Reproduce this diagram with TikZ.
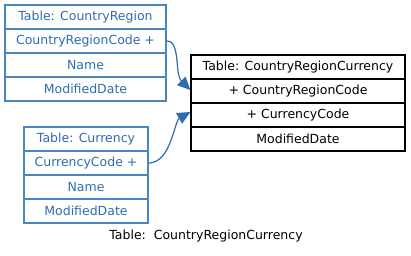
\documentclass[tikz,border=0pt]{standalone}
\usepackage{fontspec}
\setmainfont{DejaVu Sans}
\usetikzlibrary{arrows.meta}
\definecolor{tblue}{RGB}{74,134,194}
\definecolor{tbluetext}{RGB}{46,108,178}
\tikzset{
  tablefont/.style={font=\fontsize{12.5}{14}\selectfont},
  bluerow/.style={draw=tblue, line width=1.6pt, text=tbluetext, tablefont,
    minimum height=24pt, inner sep=0pt, anchor=center},
  blackrow/.style={draw=black, line width=1.2pt, text=black, tablefont,
    minimum height=24pt, inner sep=0pt, anchor=center},
  fklink/.style={draw=tbluetext, line width=1.2pt, -{Triangle[length=13pt,width=12pt]}},
}
\begin{document}
\begin{tikzpicture}[x=1pt,y=-1pt]
\useasboundingbox (0,0) rectangle (411,255);
% CountryRegion
\node[bluerow, minimum width=161pt] (a1) at (85.5,17) {Table: CountryRegion};
\node[bluerow, minimum width=161pt] (a2) at (85.5,41) {CountryRegionCode +};
\node[bluerow, minimum width=161pt] (a3) at (85.5,65) {Name};
\node[bluerow, minimum width=161pt] (a4) at (85.5,89) {ModifiedDate};
% Currency
\node[bluerow, minimum width=124pt] (b1) at (86,139) {Table: Currency};
\node[bluerow, minimum width=124pt] (b2) at (86,163) {CurrencyCode +};
\node[bluerow, minimum width=124pt] (b3) at (86,187) {Name};
\node[bluerow, minimum width=124pt] (b4) at (86,211) {ModifiedDate};
% CountryRegionCurrency
\node[blackrow, minimum width=214pt] (c1) at (298,67) {Table: CountryRegionCurrency};
\node[blackrow, minimum width=214pt] (c2) at (298,91) {+ CountryRegionCode};
\node[blackrow, minimum width=214pt] (c3) at (298,115) {+ CurrencyCode};
\node[blackrow, minimum width=214pt] (c4) at (298,139) {ModifiedDate};
% caption
\node[tablefont] (cap) at (206,236) {Table:\ \ CountryRegionCurrency};
% foreign keys
\draw[fklink] (a2.east) .. controls +(14,0) and +(-16,-16) .. ([yshift=1pt]c2.west);
\draw[fklink] (b2.east) .. controls +(22,0) and +(-16,9) .. ([yshift=3pt]c3.west);
\end{tikzpicture}
\end{document}
